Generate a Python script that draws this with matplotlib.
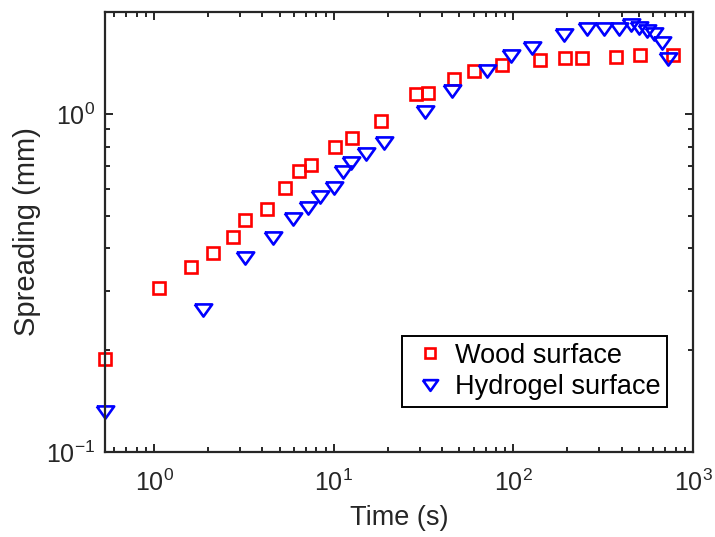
import matplotlib
matplotlib.use("Agg")
import matplotlib.pyplot as plt
from matplotlib.ticker import LogLocator, NullFormatter

plt.rcParams['font.family'] = ['Liberation Sans', 'DejaVu Sans']
plt.rcParams['mathtext.fontset'] = 'custom'
plt.rcParams['mathtext.rm'] = 'Liberation Sans'
plt.rcParams['mathtext.it'] = 'Liberation Sans:italic'

wood_t = [0.535, 1.062, 1.60, 2.12, 2.74, 3.19, 4.23, 5.32, 6.37, 7.42, 10.09, 12.7,
          18.2, 28.8, 33.6, 46.9, 60.5, 86.5, 140.7, 193.8, 240.8, 372, 505, 771]
wood_s = [0.188, 0.305, 0.352, 0.387, 0.432, 0.484, 0.522, 0.602, 0.676, 0.704, 0.796, 0.851,
          0.955, 1.148, 1.156, 1.271, 1.342, 1.397, 1.445, 1.466, 1.466, 1.476, 1.496, 1.496]

hydro_t = [0.535, 1.865, 3.19, 4.56, 5.90, 7.14, 8.33, 9.96, 11.2, 12.5, 15.2, 19.1,
           32.3, 45.6, 71.4, 97.1, 127, 191, 257, 319, 387, 451, 499, 553, 605, 670, 723]
hydro_s = [0.1315, 0.263, 0.374, 0.429, 0.488, 0.526, 0.567, 0.602, 0.672, 0.713, 0.763, 0.817,
           1.009, 1.171, 1.342, 1.486, 1.570, 1.715, 1.786, 1.786, 1.786, 1.834, 1.798, 1.761,
           1.726, 1.623, 1.455]

labels = ['Wood surface', 'Hydrogel surface']
xlabel = 'Time (s)'
ylabel = 'Spreading (mm)'

fig = plt.figure(figsize=(7.15, 5.37), dpi=100)
ax = fig.add_axes([105/715, 1 - 452/537, (693-105)/715, (452-12)/537])

tri = [(-1, 0.70), (1, 0.70), (0, -0.70), (-1, 0.70)]
ax.plot(wood_t, wood_s, linestyle='none', marker='s', ms=9.3, mfc='none',
        mec=(1, 0, 0), mew=1.9, label=labels[0], clip_on=False)
ax.plot(hydro_t, hydro_s, linestyle='none', marker=tri, ms=12.5, mfc='none',
        mec=(0, 0, 1), mew=1.9, label=labels[1], clip_on=False)

ax.set_xscale('log')
ax.set_yscale('log')
ax.set_xlim(0.532, 1000)
ax.set_ylim(0.1, 2)

ax.xaxis.set_major_locator(LogLocator(base=10, numticks=10))
ax.xaxis.set_minor_locator(LogLocator(base=10, subs=range(2, 10), numticks=20))
ax.yaxis.set_major_locator(LogLocator(base=10, numticks=10))
ax.yaxis.set_minor_locator(LogLocator(base=10, subs=range(2, 10), numticks=20))
ax.xaxis.set_minor_formatter(NullFormatter())
ax.yaxis.set_minor_formatter(NullFormatter())

dark = '#262626'
for s in ax.spines.values():
    s.set_linewidth(1.6)
    s.set_color(dark)
ax.tick_params(which='both', direction='in', top=True, right=True, colors=dark,
               width=1.4, labelsize=18, labelcolor=dark)
ax.tick_params(which='major', length=6)
ax.tick_params(which='minor', length=3.5)
ax.tick_params(axis='x', which='major', pad=13)
ax.tick_params(axis='y', which='major', pad=7)

ax.set_xlabel(xlabel, fontsize=19.5, color=dark, labelpad=6)
ax.set_ylabel(ylabel, fontsize=21, color=dark, labelpad=4)

leg = ax.legend(loc='upper left', bbox_to_anchor=(402/715, 1 - 336/537),
                bbox_transform=fig.transFigure, fontsize=19.5, frameon=True,
                fancybox=False, framealpha=1, edgecolor='black',
                handlelength=1.55, handletextpad=0.16, borderpad=0.25,
                labelspacing=0.2, borderaxespad=0)
leg.get_frame().set_linewidth(1.4)
hs = leg.legend_handles
hs[0].set_markersize(7)
hs[1].set_markersize(11)

fig.savefig('out.png', dpi=100)
